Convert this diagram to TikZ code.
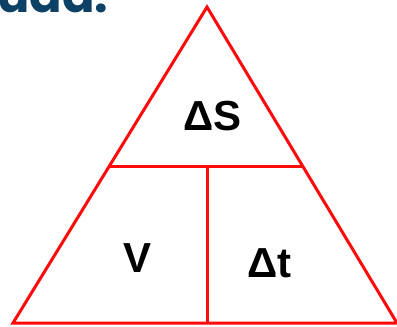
\documentclass[tikz,border=0pt]{standalone}
\usepackage{fontspec}
\setmainfont{Liberation Sans}
\newfontfamily\titlefont{Poppins}
\definecolor{titleblue}{RGB}{12,64,100}
\definecolor{trired}{RGB}{255,10,10}
\begin{document}
\begin{tikzpicture}[x=1pt,y=-1pt,
  edge/.style={draw=trired,line width=3pt,line join=miter},
  lbl/.style={font=\fontsize{42}{42}\selectfont\bfseries,inner sep=0pt,anchor=base}]
\useasboundingbox (0,0) rectangle (397,327);
\clip (0,0) rectangle (397,327);
\fill[white] (0,0) rectangle (397,327);
\node[font=\titlefont\fontsize{48}{48}\selectfont\bfseries,text=titleblue,inner sep=0pt,anchor=base west] (title) at (-3,12) {uda.};
\coordinate (apex) at (207,7);
\coordinate (bl) at (13,323);
\coordinate (br) at (397,323);
\coordinate (ml) at (109.4,166);
\coordinate (mr) at (302.6,166);
\coordinate (mm) at (207,166);
\coordinate (bm) at (207,323);
\draw[edge] (apex) -- (bl) -- (br) -- cycle;
\draw[edge] (ml) -- (mr);
\draw[edge] (mm) -- (bm);
\node[lbl] (ds) at (212.5,130) {ΔS};
\node[lbl] (v) at (138,272) {V};
\node[lbl] (dt) at (269.5,277) {Δt};
\end{tikzpicture}
\end{document}
